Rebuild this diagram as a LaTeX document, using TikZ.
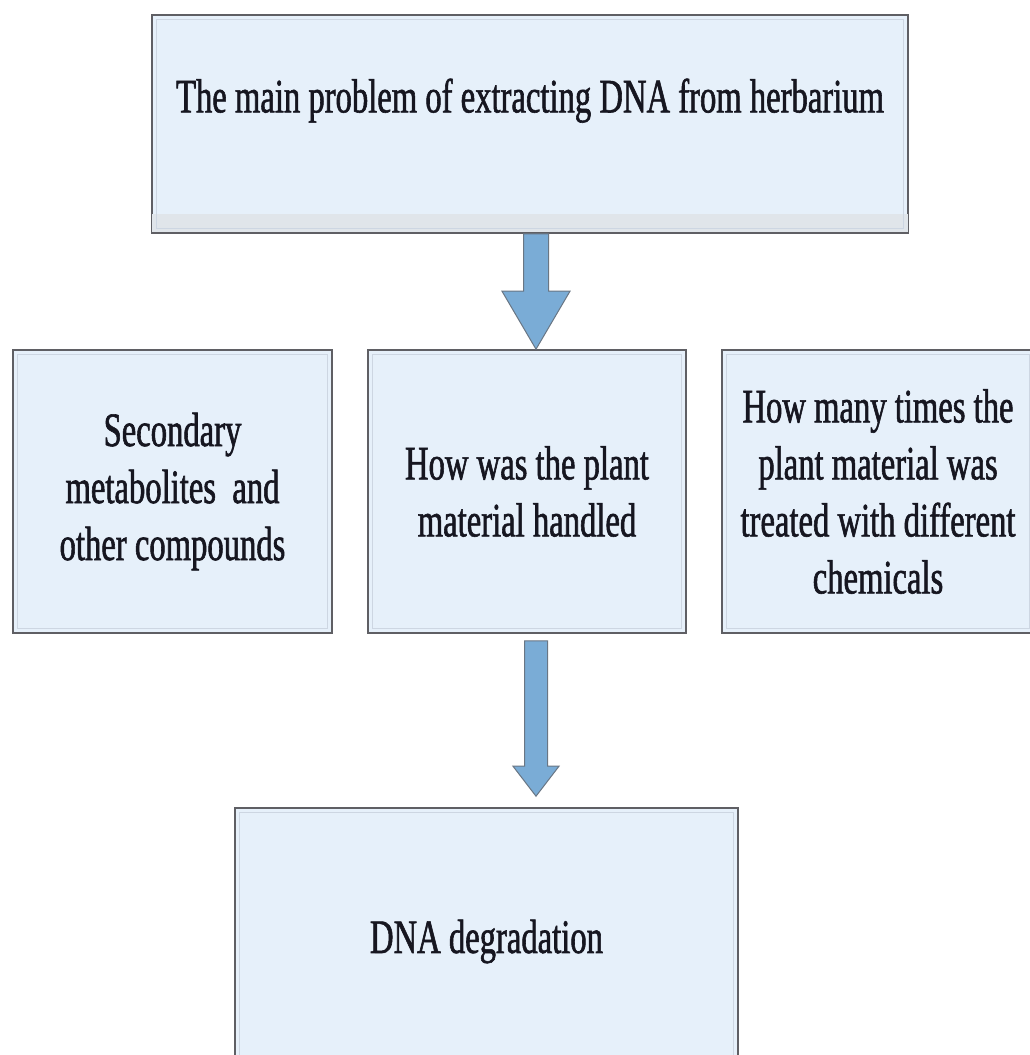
\documentclass[tikz,border=0pt]{standalone}
\usepackage{fontspec}
\newfontfamily\boxfont{Liberation Serif}[FakeStretch=0.68,FakeBold=1.2]
\usetikzlibrary{calc}
\definecolor{boxfill}{RGB}{230,240,250}
\definecolor{boxedge}{RGB}{95,95,100}
\definecolor{boxinner}{RGB}{205,214,226}
\definecolor{boxband}{RGB}{224,229,234}
\definecolor{arrowfill}{RGB}{122,172,214}
\definecolor{arrowedge}{RGB}{105,118,132}
\definecolor{inktext}{RGB}{22,22,32}

% block arrow: tail point, tip point, shaft width, head width, head length
\newcommand\blockarrow[5]{%
  \draw[flowarrow] let \p1=(#1), \p2=(#2) in
    ({\x1-#3/2},\y1) -- ({\x1-#3/2},{\y2+#5}) -- ({\x1-#4/2},{\y2+#5}) -- (\p2)
    -- ({\x1+#4/2},{\y2+#5}) -- ({\x1+#3/2},{\y2+#5}) -- ({\x1+#3/2},\y1) -- cycle;}

\begin{document}
\begin{tikzpicture}[x=1pt,y=-1pt,
  card/.style={draw=boxedge, line width=1.6pt, fill=boxfill, inner sep=0pt,
    align=center, text=inktext, font=\boxfont\fontsize{48}{57}\selectfont},
  innerline/.style={draw=boxinner, line width=1.2pt},
  flowarrow/.style={fill=arrowfill, draw=arrowedge, line width=1pt, line join=miter}]
\useasboundingbox (0,0) rectangle (1030,1055);
\fill[white] (0,0) rectangle (1030,1055);

\node[card, minimum width=756pt, minimum height=218pt] (problem) at (530,124)
  {The main problem of extracting DNA from herbarium\\\mbox{}};
\node[card, minimum width=319pt, minimum height=283pt] (metab) at (172.5,491.5)
  {Secondary\\metabolites~ and\\other compounds};
\node[card, minimum width=318pt, minimum height=283pt] (handling) at (527,491.5)
  {How was the plant\\material handled};
\node[card, minimum width=312pt, minimum height=283pt] (chem) at (878,491.5)
  {How many times the\\plant material was\\treated with different\\chemicals};
\node[card, minimum width=503pt, minimum height=267pt] (degr) at (486.5,941.5)
  {DNA degradation};

% shaded strip along the foot of the title box
\fill[boxband] ([shift={(1,-20)}]problem.south west) rectangle ([shift={(-1,-2)}]problem.south east);

% light inner rim of each box
\foreach \n in {problem,metab,handling,chem,degr}
  \draw[innerline] ([shift={(5,5)}]\n.north west) rectangle ([shift={(-5,-5)}]\n.south east);

% connectors
\coordinate (ax) at (536,0);
\coordinate (a1t) at (ax |- problem.south);
\coordinate (a1h) at (ax |- handling.north);
\coordinate (a2t) at ($(ax |- handling.south)+(0,7)$);
\coordinate (a2h) at ($(ax |- degr.north)+(0,-11)$);
\blockarrow{a1t}{a1h}{25pt}{68pt}{58pt}
\blockarrow{a2t}{a2h}{23pt}{46pt}{30pt}
\end{tikzpicture}
\end{document}
